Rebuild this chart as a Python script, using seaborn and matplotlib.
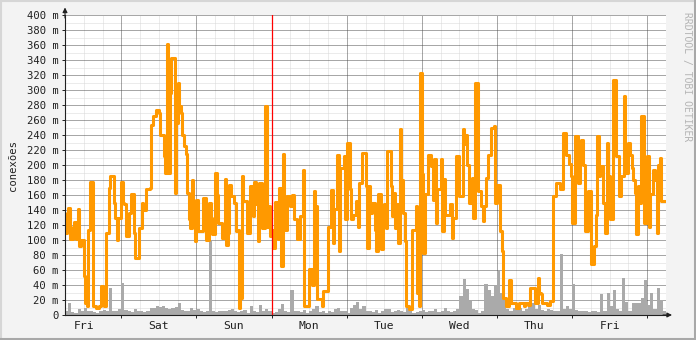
import numpy as np
import pandas as pd
import matplotlib
matplotlib.use("Agg")
import matplotlib.pyplot as plt
import seaborn as sns
from matplotlib.lines import Line2D

# ---- data: connections (half-hour steps), starting Fri 06:00 ----
conn_1 = [110,136, 143,102, 102,118, 124,102, 141,92, 100,100, 52,16, 12,114, 177,177, 12,12, 10,10, 12,39,
          30,12, 110,110, 170,186, 186,150, 130,100, 130,130, 177,150, 148,105, 105,136, 161,161, 110,76, 76,116]
conn_2 = [116,150, 140,140, 168,168, 170,253, 265,265, 274,274, 270,240, 240,212, 190,362, 190,296, 343,343, 163,256,
          309,279, 270,240, 225,215, 163,128, 116,180, 150,99, 154,112, 112,112, 156,156, 100,100, 150,130, 108,108]
conn_3 = [190,160, 123,123, 103,103, 181,94, 110,174, 159,159, 150,112, 114,10, 23,185, 152,152, 110,110, 172,172,
          132,178, 148,99, 176,176, 116,116, 279,118, 145,105, 114,90, 151,151, 101,170, 65,215, 114,114, 159,159]
conn_4 = [145,160, 128,128, 101,101, 132,132, 194,12, 12,12, 61,61, 40,165, 145,21, 21,21, 12,32, 32,32,
          118,118, 167,96, 141,141, 214,85, 196,196, 212,128, 230,230, 168,128, 134,134, 152,118, 176,176, 216,216]
conn_5 = [172,90, 172,136, 150,150, 114,85, 161,161, 88,145, 148,116, 219,219, 172,132, 163,116, 148,96, 248,180,
          136,99, 12,12, 8,8, 114,114, 145,30, 12,323, 188,83, 161,161, 214,214, 199,154, 208,123, 168,168]
conn_6 = [208,112, 181,134, 134,134, 148,103, 130,130, 212,212, 159,159, 248,228, 240,200, 150,150, 183,130, 310,310,
          165,165, 145,125, 145,183, 214,214, 250,250, 252,150, 174,174, 112,85, 23,23, 12,12, 47,16, 16,16]
conn_7 = [10,10, 16,16, 16,12, 16,16, 14,36, 36,36, 16,16, 50,30, 28,16, 16,16, 14,14, 19,19,
          159,159, 176,176, 168,168, 243,243, 214,214, 201,185, 123,123, 239,239, 176,216, 234,200, 112,112, 165,165]
conn_8 = [68,68, 92,134, 239,185, 199,199, 150,110, 230,185, 128,128, 314,314, 212,212, 159,185, 185,292, 190,190,
          230,214, 196,180, 163,108, 172,150, 265,265, 123,123, 212,118, 161,161, 194,180, 110,200, 210,152, 152,152]

# ---- data: second series (hourly, grey area) ----
grey_1 = [6,16,4,3,8,5,10,5,6,4,3,6,7,5,36,6,5,8,43,7,5,4,8,6]
grey_2 = [5,4,6,9,10,12,11,12,10,8,9,11,16,7,6,5,9,7,8,6,4,5,100,6]
grey_3 = [4,5,6,5,7,8,5,4,6,7,3,12,5,4,13,6,8,5,3,4,8,15,5,4]
grey_4 = [34,6,5,4,7,3,5,8,12,4,5,3,6,4,8,9,6,5,3,10,14,18,8,12]
grey_5 = [6,5,4,7,3,5,8,8,4,6,7,5,4,9,5,3,4,5,7,4,6,5,8,4]
grey_6 = [5,10,5,4,6,8,25,48,35,19,8,7,3,5,41,34,25,39,59,30,19,8,6,9]
grey_7 = [7,10,6,8,12,16,8,14,7,6,8,7,6,5,81,8,12,8,41,7,5,6,5,4]
grey_8 = [6,5,4,28,6,30,12,34,8,6,50,18,5,16,16,16,23,47,14,30,8,36,20,6]

day_labels = ["Fri", "Sat", "Sun", "Mon", "Tue", "Wed", "Thu", "Fri"]
y_labels = ["0"] + [f"{v} m" for v in range(20, 401, 20)]

conn = conn_1 + conn_2 + conn_3 + conn_4 + conn_5 + conn_6 + conn_7 + conn_8
grey = grey_1 + grey_2 + grey_3 + grey_4 + grey_5 + grey_6 + grey_7 + grey_8

conn_x = np.arange(len(conn) + 1) * 0.5
conn_df = pd.DataFrame({"hour": conn_x, "value": conn + [conn[-1]]})
grey_x = np.arange(len(grey) + 1) * 1.0
grey_y = np.array(grey + [grey[-1]], dtype=float)

plt.rcParams["font.family"] = ["DejaVu Sans Mono", "DejaVu Sans"]

W, H = 696, 340
fig = plt.figure(figsize=(W / 100, H / 100), dpi=100, facecolor="#F3F3F3")
ax = fig.add_axes([65 / W, 25 / H, 601 / W, 300 / H])
ax.set_facecolor("white")
ax.set_xlim(0, 192)
ax.set_ylim(0, 400)

dot = (0, (1, 1))
# grid
for h in np.arange(0, 193, 6):
    if (h - 18) % 24 != 0:
        ax.axvline(h, color="#D8D8D8", lw=0.72, ls=dot, zorder=0)
for h in np.arange(18, 192, 24):
    if h != 66:
        ax.axvline(h, color="#505050", lw=0.72, ls=dot, zorder=0.5)
for v in range(10, 401, 20):
    ax.axhline(v, color="#D8D8D8", lw=0.72, ls=dot, zorder=0)
for v in range(20, 401, 20):
    ax.axhline(v, color="#505050", lw=0.72, ls=dot, zorder=0.5)

# grey area
ax.fill_between(grey_x, 0, grey_y, step="post", color="#AAAAAA", lw=0, zorder=1)

# orange line
sns.lineplot(data=conn_df, x="hour", y="value", ax=ax, color="#FF9900",
             lw=2.2, drawstyle="steps-post", zorder=2)

# red vertical rule (Mon 00:00)
ax.axvline(66, color="#FF0000", lw=0.9, zorder=3)

ax.set_xlabel("")
ax.set_ylabel("")
for s in ["top", "right"]:
    ax.spines[s].set_visible(False)
for s in ["left", "bottom"]:
    ax.spines[s].set_color("#202020")
    ax.spines[s].set_linewidth(0.8)
    ax.spines[s].set_zorder(4)

ax.set_yticks(range(0, 401, 20), labels=y_labels)
ax.set_xticks(np.arange(6, 192, 24), labels=day_labels)
ax.tick_params(axis="y", length=2, width=0.7, pad=2.5, labelsize=7.6, colors="#202020")
ax.tick_params(axis="x", length=0, pad=4, labelsize=8.2, colors="#202020")
for lab in ax.get_yticklabels() + ax.get_xticklabels():
    lab.set_color("#202020")

# small ticks at day boundaries on x axis
ax.set_xticks(np.arange(18, 192, 24), minor=True)
ax.tick_params(axis="x", which="minor", length=2, width=0.7, color="#202020")

# arrows
ax.annotate("", xy=(0, 1.025), xytext=(0, 0.99), xycoords="axes fraction",
            arrowprops=dict(arrowstyle="-|>", color="#202020", lw=0.8, mutation_scale=7,
                            shrinkA=0, shrinkB=0), annotation_clip=False)
ax.annotate("", xy=(1.01, 0), xytext=(0.995, 0), xycoords="axes fraction",
            arrowprops=dict(arrowstyle="-|>", color="#202020", lw=0.8, mutation_scale=7,
                            shrinkA=0, shrinkB=0), annotation_clip=False)

# texts
fig.text(13 / W, 1 - 165 / H, "conexões", rotation=90, ha="center", va="center",
         fontsize=7.6, color="#202020")
fig.text(687 / W, 1 - 12 / H, "RRDTOOL / TOBI OETIKER", rotation=270, ha="center", va="top",
         fontsize=7.0, color="#B4B4B4")

# frame shading
fig.add_artist(Line2D([0, 1], [1 - 1 / H, 1 - 1 / H], transform=fig.transFigure, color="#D6D6D6", lw=1.5))
fig.add_artist(Line2D([1 / W, 1 / W], [0, 1], transform=fig.transFigure, color="#D6D6D6", lw=1.5))
fig.add_artist(Line2D([0, 1], [1.5 / H, 1.5 / H], transform=fig.transFigure, color="#A8A8A8", lw=2.2))
fig.add_artist(Line2D([1 - 1.5 / W, 1 - 1.5 / W], [0, 1], transform=fig.transFigure, color="#A8A8A8", lw=2.2))

fig.savefig("out.png", dpi=100, facecolor=fig.get_facecolor())
